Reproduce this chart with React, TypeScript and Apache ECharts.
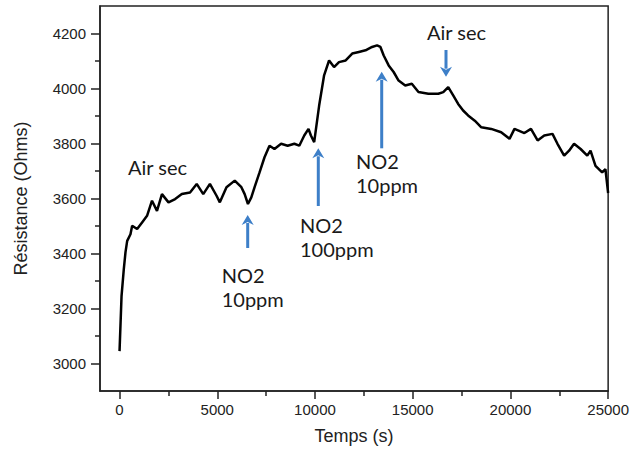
import React, { useEffect, useRef } from "react";
import * as echarts from "echarts";

// Time (s) and resistance (Ohms)
const times = [
  0, 102, 218, 305, 391, 559, 645, 899, 1153, 1407,
  1661, 1916, 2170, 2505, 2845, 3186, 3607, 3948, 4283, 4624,
  4964, 5132, 5472, 5894, 6234, 6402, 6570, 6742, 6910, 7164,
  7418, 7672, 7926, 8267, 8602, 8943, 9197, 9451, 9669, 9791,
  9959, 10213, 10467, 10721, 10975, 11229, 11570, 11905, 12245, 12586,
  12921, 13175, 13348, 13516, 13770, 14024, 14278, 14618, 14954, 15294,
  15802, 16310, 16564, 16818, 17072, 17326, 17580, 17834, 18175, 18510,
  19018, 19526, 19953, 20207, 20715, 21051, 21391, 21731, 22153, 22407,
  22748, 23002, 23256, 23591, 23932, 24099, 24353, 24693, 24861, 25000,
];
const resistances = [
  3045, 3245, 3343, 3405, 3446, 3470, 3501, 3489, 3513, 3537,
  3592, 3555, 3616, 3586, 3598, 3616, 3622, 3653, 3616, 3653,
  3610, 3586, 3641, 3665, 3641, 3616, 3580, 3604, 3641, 3695,
  3750, 3792, 3780, 3799, 3792, 3799, 3792, 3829, 3853, 3829,
  3805, 3938, 4048, 4102, 4078, 4096, 4102, 4127, 4133, 4139,
  4151, 4157, 4151, 4120, 4084, 4060, 4029, 4011, 4017, 3987,
  3981, 3981, 3987, 4005, 3975, 3944, 3920, 3902, 3883, 3859,
  3853, 3841, 3817, 3853, 3838, 3853, 3811, 3829, 3835, 3799,
  3756, 3774, 3799, 3780, 3756, 3774, 3719, 3695, 3707, 3620,
];

const xMajorTicks = [0, 5000, 10000, 15000, 20000, 25000];
const xMinorTicks = [2500, 7500, 12500, 17500, 22500];
const yMajorTicks = [3000, 3200, 3400, 3600, 3800, 4000, 4200];
const yMinorTicks = [3100, 3300, 3500, 3700, 3900, 4100];

const xTitle = "Temps (s)";
const yTitle = "Résistance (Ohms)";

// annotation labels (lines of text)
const annotationTexts = [
  ["Air sec"],
  ["NO2", "10ppm"],
  ["NO2", "100ppm"],
  ["NO2", "10ppm"],
  ["Air sec"],
];

const BLUE = "#3d7fc8";
const AXIS = "#222";
const FONT = "Liberation Sans";

function arrow(x: number, yTail: number, yTip: number) {
  const up = yTip < yTail;
  const dir = up ? 1 : -1;
  const headLen = 10;
  const halfW = 6;
  return [
    {
      type: "line",
      shape: { x1: x, y1: yTail, x2: x, y2: yTip + dir * (headLen - 2) },
      style: { stroke: BLUE, lineWidth: 3 },
    },
    {
      type: "polygon",
      shape: {
        points: [
          [x, yTip],
          [x - halfW, yTip + dir * headLen],
          [x, yTip + dir * (headLen - 3)],
          [x + halfW, yTip + dir * headLen],
        ],
      },
      style: { fill: BLUE },
    },
  ];
}

function label(x: number, baseline: number, lines: string[]) {
  return lines.map((t, i) => ({
    type: "text",
    x,
    y: baseline + i * 24 - 7,
    style: {
      text: t,
      fill: "#1a1a1a",
      font: "20px Lato, 'Open Sans', sans-serif",
      verticalAlign: "middle",
      align: "left",
    },
  }));
}

export default function App() {
  const ref = useRef<HTMLDivElement>(null);
  useEffect(() => {
    if (!ref.current) return;
    const chart = echarts.init(ref.current, undefined, { renderer: "svg" });
    const data = times.map((t, i) => [t, resistances[i]]);
    const plain = (v: number) => String(v);
    chart.setOption({
      animation: false,
      backgroundColor: "#fff",
      grid: {
        left: 100,
        right: 21,
        top: 6,
        bottom: 61,
        show: true,
        borderColor: AXIS,
        borderWidth: 1.5,
        backgroundColor: "transparent",
      },
      xAxis: [
        {
          type: "value",
          min: -1000,
          max: 25000,
          name: xTitle,
          nameLocation: "middle",
          nameGap: 36,
          nameTextStyle: { fontFamily: FONT, fontSize: 18, color: AXIS },
          axisLine: { show: true, onZero: false, lineStyle: { color: AXIS, width: 1.5 } },
          axisTick: { show: true, customValues: xMajorTicks, length: 8, lineStyle: { color: AXIS, width: 1.5 } },
          axisLabel: { customValues: xMajorTicks, formatter: plain, margin: 11, fontSize: 15, color: AXIS, fontFamily: FONT },
          splitLine: { show: false },
        },
        {
          type: "value",
          min: -1000,
          max: 25000,
          position: "bottom",
          axisLine: { show: false, onZero: false },
          axisTick: { show: true, customValues: xMinorTicks, length: 5, lineStyle: { color: AXIS, width: 1.5 } },
          axisLabel: { show: false },
          splitLine: { show: false },
        },
      ],
      yAxis: [
        {
          type: "value",
          min: 2900,
          max: 4300,
          name: yTitle,
          nameLocation: "middle",
          nameGap: 70,
          nameTextStyle: { fontFamily: FONT, fontSize: 18, color: AXIS },
          axisLine: { show: true, onZero: false, lineStyle: { color: AXIS, width: 1.5 } },
          axisTick: { show: true, customValues: yMajorTicks, length: 9, lineStyle: { color: AXIS, width: 1.5 } },
          axisLabel: { customValues: yMajorTicks, formatter: plain, margin: 14, fontSize: 15, color: AXIS, fontFamily: FONT },
          splitLine: { show: false },
        },
        {
          type: "value",
          min: 2900,
          max: 4300,
          position: "left",
          axisLine: { show: false, onZero: false },
          axisTick: { show: true, customValues: yMinorTicks, length: 5, lineStyle: { color: AXIS, width: 1.5 } },
          axisLabel: { show: false },
          splitLine: { show: false },
        },
      ],
      series: [
        {
          type: "line",
          data,
          xAxisIndex: 0,
          yAxisIndex: 0,
          showSymbol: false,
          lineStyle: { color: "#000", width: 2.5 },
          silent: true,
        },
      ],
      graphic: [
        ...arrow(247.7, 248, 215),
        ...arrow(318.3, 206, 148.3),
        ...arrow(381.7, 148.3, 71.7),
        ...arrow(446, 50, 76.7),
        ...label(128, 174, annotationTexts[0]),
        ...label(221.7, 281.7, annotationTexts[1]),
        ...label(300, 232, annotationTexts[2]),
        ...label(356, 168, annotationTexts[3]),
        ...label(427, 39.3, annotationTexts[4]),
      ],
    });
    return () => chart.dispose();
  }, []);
  return (
    <div
      ref={ref}
      style={{ position: "absolute", left: 0, top: 0, width: 632, height: 452 }}
    />
  );
}
